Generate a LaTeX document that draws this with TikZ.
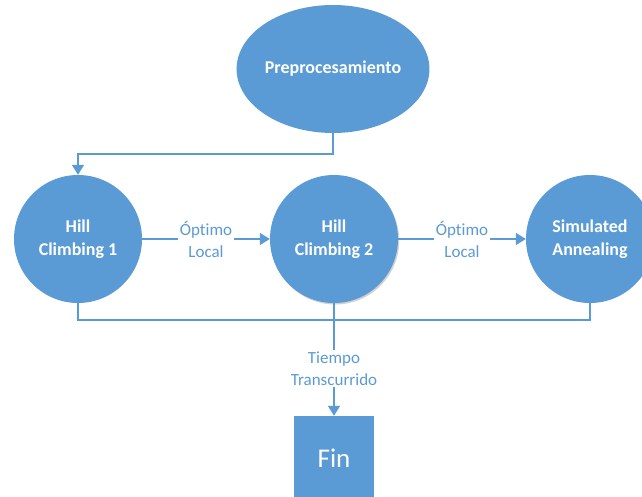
\documentclass[tikz,border=0pt]{standalone}
\usepackage{fontspec}
\setmainfont[Ligatures=NoCommon]{Carlito}
\usetikzlibrary{arrows.meta,shadows,shapes.geometric}
\definecolor{ofblue}{HTML}{5B9BD5}
\begin{document}
\begin{tikzpicture}[x=1pt,y=-1pt,
  ellnode/.style={ellipse,fill=ofblue,text=white,font=\fontsize{18}{22}\selectfont\bfseries,
    minimum width=192pt,minimum height=128pt,inner sep=0pt,align=center},
  circnode/.style={circle,fill=ofblue,text=white,font=\fontsize{18}{23}\selectfont\bfseries,
    minimum size=128pt,inner sep=0pt,align=center},
  finbox/.style={rectangle,fill=ofblue,text=white,font=\fontsize{27}{30}\selectfont,
    minimum width=80pt,minimum height=84pt,inner sep=0pt},
  conn/.style={draw=ofblue,line width=1.5pt,-{Triangle[width=12pt,length=10pt]}},
  plainline/.style={draw=ofblue,line width=1.5pt},
  lbl/.style={fill=white,text=ofblue,font=\fontsize{17}{22}\selectfont,align=center,inner sep=2pt}
]
\useasboundingbox (0,0) rectangle (642,497);
\clip (0,0) rectangle (642,497);
\node[ellnode] (pre) at (333,69) {Preprocesamiento};
\node[circnode] (h1) at (78,239) {Hill\\Climbing 1};
\node[circnode,drop shadow={shadow xshift=1.2pt,shadow yshift=-1.5pt,fill=black!40,opacity=0.45}] (h2) at (334,239) {Hill\\Climbing 2};
\node[circnode] (sa) at (590,239) {Simulated\\Annealing};
\node[finbox] (fin) at (334,458) {Fin};
\draw[conn] (pre.south) -- ++(0,21) -| (h1.north);
\draw[conn] (h1.east) -- node[lbl] {Óptimo\\Local} (h2.west);
\draw[conn] (h2.east) -- node[lbl] {Óptimo\\Local} (sa.west);
\draw[plainline] (h1.south) -- ++(0,17) -| (sa.south);
\draw[conn] (h2.south) -- node[lbl,pos=0.58] {Tiempo\\Transcurrido} (fin.north);
\end{tikzpicture}
\end{document}
